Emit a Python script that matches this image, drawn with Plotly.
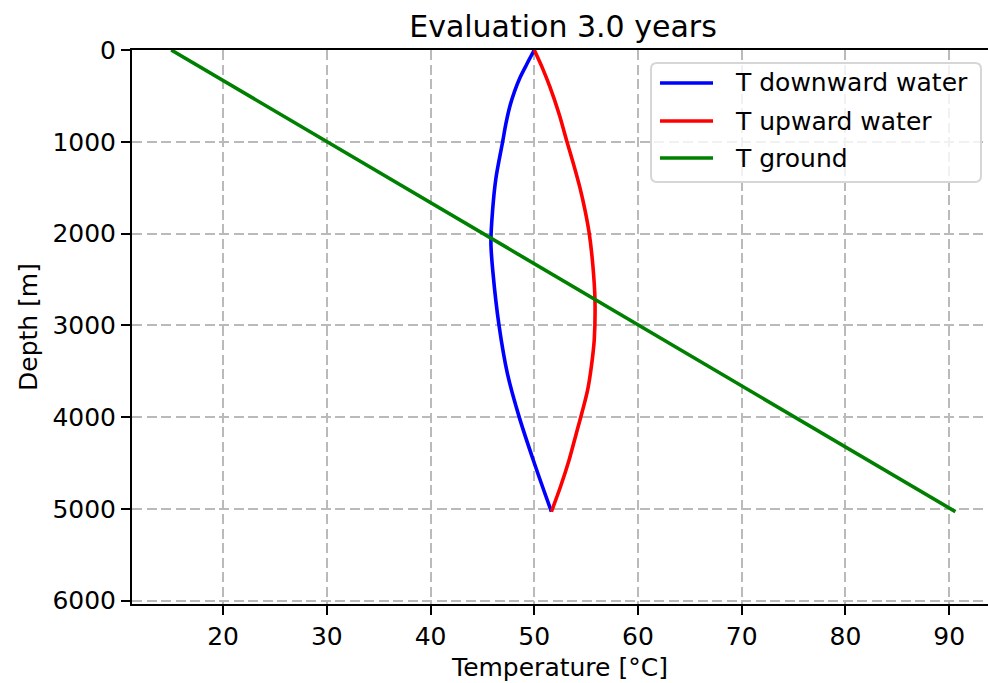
import plotly.graph_objects as go

# Borehole heat-exchanger temperature profiles after 3 years of operation
depth_down = [0, 150, 300, 450, 600, 800, 1000, 1400, 1750, 2100, 2430, 3000, 3520, 4000, 4500, 5030]
temp_down = [50.0, 49.3, 48.63, 48.1, 47.68, 47.27, 46.95, 46.3, 45.98, 45.82, 46.02, 46.6, 47.4, 48.55, 50.0, 51.65]

depth_up = [0, 200, 400, 700, 1000, 1250, 1500, 1750, 2000, 2350, 2720, 3160, 3450, 3700, 3950, 4200, 4470, 4750, 5030]
temp_up = [50.0, 50.8, 51.5, 52.4, 53.15, 53.8, 54.4, 54.9, 55.3, 55.65, 55.85, 55.78, 55.5, 55.15, 54.6, 54.0, 53.35, 52.55, 51.65]

depth_ground = [0, 5030]
temp_ground = [15.0, 90.6]

series_names = ["T downward water", "T upward water", "T ground"]
series_colors = ["#0000ff", "#ff0000", "#008000"]

x_ticks = [20, 30, 40, 50, 60, 70, 80, 90]
y_ticks = [0, 1000, 2000, 3000, 4000, 5000, 6000]

FONT = "DejaVu Sans, Liberation Sans, sans-serif"
W, H = 988, 683
ML, MR, MT, MB = 132, 0, 50, 79

fig = go.Figure()
for xs, ys, name, color in zip(
    [temp_down, temp_up, temp_ground],
    [depth_down, depth_up, depth_ground],
    series_names,
    series_colors,
):
    fig.add_trace(go.Scatter(x=xs, y=ys, mode="lines", name=name,
                             line=dict(color=color, width=3.6, shape="spline", smoothing=0.9),
                             showlegend=False))

# Legend drawn in paper space (matplotlib-style frame with long line samples)
pw, ph = W - ML - MR, H - MT - MB


def px(x):
    return (x - ML) / pw


def py(y):
    return (H - MB - y) / ph


bx0, bx1, by0, by1, r = 651, 981, 63, 182, 6
path = (
    f"M {px(bx0 + r)},{py(by0)} L {px(bx1 - r)},{py(by0)} "
    f"Q {px(bx1)},{py(by0)} {px(bx1)},{py(by0 + r)} "
    f"L {px(bx1)},{py(by1 - r)} Q {px(bx1)},{py(by1)} {px(bx1 - r)},{py(by1)} "
    f"L {px(bx0 + r)},{py(by1)} Q {px(bx0)},{py(by1)} {px(bx0)},{py(by1 - r)} "
    f"L {px(bx0)},{py(by0 + r)} Q {px(bx0)},{py(by0)} {px(bx0 + r)},{py(by0)} Z"
)
shapes = [dict(type="path", xref="paper", yref="paper", path=path,
               fillcolor="rgba(255,255,255,0.8)", line=dict(color="#d6d6d6", width=2),
               layer="above")]
annotations = []
rows = [83, 121, 158]
for name, color, ry in zip(series_names, series_colors, rows):
    shapes.append(dict(type="line", xref="paper", yref="paper",
                       x0=px(660), x1=px(713), y0=py(ry), y1=py(ry),
                       line=dict(color=color, width=3.6), layer="above"))
    annotations.append(dict(xref="paper", yref="paper", x=px(733), y=py(ry),
                            text=name, showarrow=False, xanchor="left", yanchor="middle",
                            font=dict(family=FONT, size=25, color="black")))

grid_style = dict(showgrid=True, gridcolor="#bababa", gridwidth=1.8, griddash="10px,4.5px")

fig.update_layout(
    width=W, height=H,
    margin=dict(l=ML, r=MR, t=MT, b=MB, autoexpand=False),
    paper_bgcolor="white", plot_bgcolor="white",
    font=dict(family=FONT, size=25, color="black"),
    title=dict(text="Evaluation 3.0 years", x=563 / W, xanchor="center",
               y=1 - 26 / H, yanchor="middle",
               font=dict(family=FONT, size=30, color="black")),
    shapes=shapes,
    annotations=annotations,
    xaxis=dict(range=[11.22, 93.74], tickvals=x_ticks, ticks="outside", ticklen=9,
               tickwidth=2, tickcolor="black", showline=True, linecolor="black",
               linewidth=2, mirror=True, zeroline=False,
               tickfont=dict(family=FONT, size=25),
               title=dict(text="Temperature [°C]", standoff=8,
                          font=dict(family=FONT, size=25)),
               **grid_style),
    yaxis=dict(range=[6036, 0], tickvals=y_ticks, ticks="outside", ticklen=9,
               tickwidth=2, tickcolor="black", showline=True, linecolor="black",
               linewidth=2, mirror=False, zeroline=False,
               tickfont=dict(family=FONT, size=25),
               title=dict(text="Depth [m]", standoff=8,
                          font=dict(family=FONT, size=25)),
               **grid_style),
)

fig.write_html("out.html")
